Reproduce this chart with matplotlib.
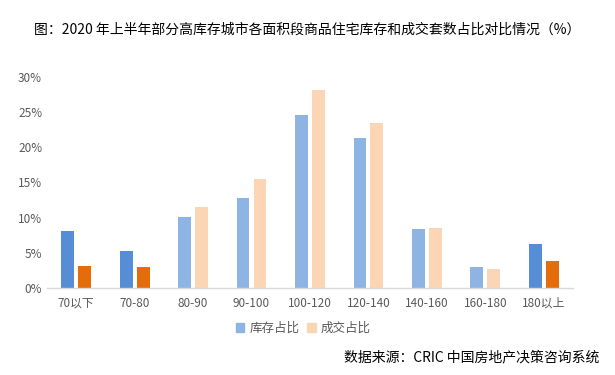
import numpy as np
import matplotlib.pyplot as plt
from matplotlib.patches import Patch

plt.rcParams['font.family'] = ['Noto Sans CJK SC', 'DejaVu Sans']

categories = ['70以下', '70-80', '80-90', '90-100', '100-120', '120-140', '140-160', '160-180', '180以上']
stock_share = [8.1, 5.3, 10.1, 12.8, 24.6, 21.3, 8.4, 3.0, 6.3]
deal_share = [3.2, 3.0, 11.5, 15.5, 28.1, 23.4, 8.5, 2.7, 3.9]
highlight = [True, True, False, False, False, False, False, False, True]

blue_dark, blue_light = '#558ED5', '#8EB4E3'
orange_dark, orange_light = '#E46C0A', '#FCD5B5'
grey = '#595959'

fig = plt.figure(figsize=(6.15, 3.75), dpi=100)
ax = fig.add_axes([0.0764, 0.2312, 0.8553, 0.5643])

x = np.arange(len(categories))
w = 0.22
off = 0.145
c1 = [blue_dark if h else blue_light for h in highlight]
c2 = [orange_dark if h else orange_light for h in highlight]
ax.bar(x - off, stock_share, w, color=c1)
ax.bar(x + off, deal_share, w, color=c2)

ax.set_xlim(-0.5, len(categories) - 0.5)
ax.set_ylim(0, 30)
ax.set_yticks(range(0, 31, 5))
ax.set_yticklabels([f'{v}%' for v in range(0, 31, 5)])
ax.set_xticks(x)
ax.set_xticklabels(categories)
ax.tick_params(axis='both', length=0, colors=grey, labelsize=8.5)
ax.tick_params(axis='x', pad=6)
for s in ['top', 'right', 'left']:
    ax.spines[s].set_visible(False)
ax.spines['bottom'].set_color('#D9D9D9')
ax.spines['bottom'].set_linewidth(1)

handles = [Patch(color=blue_light, label='库存占比'), Patch(color=orange_light, label='成交占比')]
fig.legend(handles=handles, loc='center', bbox_to_anchor=(0.493, 0.125), ncol=2,
           frameon=False, fontsize=9, labelcolor=grey, handlelength=0.7, handleheight=0.7,
           handletextpad=0.4, columnspacing=0.6)

fig.text(0.5, 0.92, '图：2020 年上半年部分高库存城市各面积段商品住宅库存和成交套数占比对比情况（%）',
         ha='center', va='center', fontsize=10, color='black')
fig.text(0.975, 0.048, '数据来源：CRIC 中国房地产决策咨询系统', ha='right', va='center',
         fontsize=10, color='black')

fig.savefig('out.png', dpi=100)
